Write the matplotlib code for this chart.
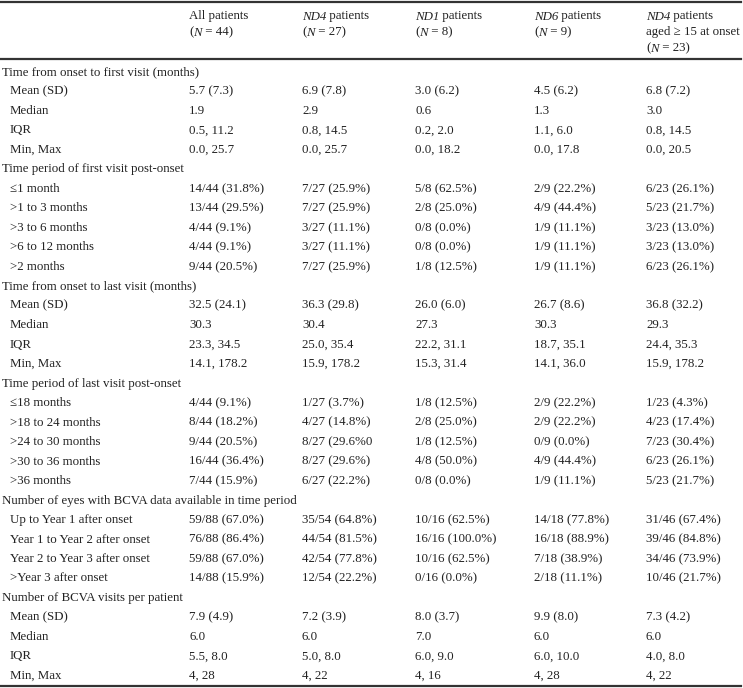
import matplotlib
matplotlib.use("Agg")
import matplotlib.pyplot as plt

plt.rcParams['font.family'] = ['Liberation Serif', 'DejaVu Serif']

# column headers: each line is a list of (text, italic) pieces
headers = [
    [[("All patients", False)], [("(", False), ("N", True), (" = 44)", False)]],
    [[("ND4", True), (" patients", False)], [("(", False), ("N", True), (" = 27)", False)]],
    [[("ND1", True), (" patients", False)], [("(", False), ("N", True), (" = 8)", False)]],
    [[("ND6", True), (" patients", False)], [("(", False), ("N", True), (" = 9)", False)]],
    [[("ND4", True), (" patients", False)], [("aged \u2265 15 at onset", False)],
     [("(", False), ("N", True), (" = 23)", False)]],
]

stat_rows = ["Mean (SD)", "Median", "IQR", "Min, Max"]

sec_first = "Time from onset to first visit (months)"
first_visit = [
    ["5.7 (7.3)", "6.9 (7.8)", "3.0 (6.2)", "4.5 (6.2)", "6.8 (7.2)"],
    ["1.9", "2.9", "0.6", "1.3", "3.0"],
    ["0.5, 11.2", "0.8, 14.5", "0.2, 2.0", "1.1, 6.0", "0.8, 14.5"],
    ["0.0, 25.7", "0.0, 25.7", "0.0, 18.2", "0.0, 17.8", "0.0, 20.5"],
]

sec_first_period = "Time period of first visit post-onset"
first_period_labels = ["\u22641 month", ">1 to 3 months", ">3 to 6 months",
                       ">6 to 12 months", ">2 months"]
first_period = [
    ["14/44 (31.8%)", "7/27 (25.9%)", "5/8 (62.5%)", "2/9 (22.2%)", "6/23 (26.1%)"],
    ["13/44 (29.5%)", "7/27 (25.9%)", "2/8 (25.0%)", "4/9 (44.4%)", "5/23 (21.7%)"],
    ["4/44 (9.1%)", "3/27 (11.1%)", "0/8 (0.0%)", "1/9 (11.1%)", "3/23 (13.0%)"],
    ["4/44 (9.1%)", "3/27 (11.1%)", "0/8 (0.0%)", "1/9 (11.1%)", "3/23 (13.0%)"],
    ["9/44 (20.5%)", "7/27 (25.9%)", "1/8 (12.5%)", "1/9 (11.1%)", "6/23 (26.1%)"],
]

sec_last = "Time from onset to last visit (months)"
last_visit = [
    ["32.5 (24.1)", "36.3 (29.8)", "26.0 (6.0)", "26.7 (8.6)", "36.8 (32.2)"],
    ["30.3", "30.4", "27.3", "30.3", "29.3"],
    ["23.3, 34.5", "25.0, 35.4", "22.2, 31.1", "18.7, 35.1", "24.4, 35.3"],
    ["14.1, 178.2", "15.9, 178.2", "15.3, 31.4", "14.1, 36.0", "15.9, 178.2"],
]

sec_last_period = "Time period of last visit post-onset"
last_period_labels = ["\u226418 months", ">18 to 24 months", ">24 to 30 months",
                      ">30 to 36 months", ">36 months"]
last_period = [
    ["4/44 (9.1%)", "1/27 (3.7%)", "1/8 (12.5%)", "2/9 (22.2%)", "1/23 (4.3%)"],
    ["8/44 (18.2%)", "4/27 (14.8%)", "2/8 (25.0%)", "2/9 (22.2%)", "4/23 (17.4%)"],
    ["9/44 (20.5%)", "8/27 (29.6%0", "1/8 (12.5%)", "0/9 (0.0%)", "7/23 (30.4%)"],
    ["16/44 (36.4%)", "8/27 (29.6%)", "4/8 (50.0%)", "4/9 (44.4%)", "6/23 (26.1%)"],
    ["7/44 (15.9%)", "6/27 (22.2%)", "0/8 (0.0%)", "1/9 (11.1%)", "5/23 (21.7%)"],
]

sec_eyes = "Number of eyes with BCVA data available in time period"
eyes_labels = ["Up to Year 1 after onset", "Year 1 to Year 2 after onset",
               "Year 2 to Year 3 after onset", ">Year 3 after onset"]
eyes = [
    ["59/88 (67.0%)", "35/54 (64.8%)", "10/16 (62.5%)", "14/18 (77.8%)", "31/46 (67.4%)"],
    ["76/88 (86.4%)", "44/54 (81.5%)", "16/16 (100.0%)", "16/18 (88.9%)", "39/46 (84.8%)"],
    ["59/88 (67.0%)", "42/54 (77.8%)", "10/16 (62.5%)", "7/18 (38.9%)", "34/46 (73.9%)"],
    ["14/88 (15.9%)", "12/54 (22.2%)", "0/16 (0.0%)", "2/18 (11.1%)", "10/46 (21.7%)"],
]

sec_visits = "Number of BCVA visits per patient"
visits = [
    ["7.9 (4.9)", "7.2 (3.9)", "8.0 (3.7)", "9.9 (8.0)", "7.3 (4.2)"],
    ["6.0", "6.0", "7.0", "6.0", "6.0"],
    ["5.5, 8.0", "5.0, 8.0", "6.0, 9.0", "6.0, 10.0", "4.0, 8.0"],
    ["4, 28", "4, 22", "4, 16", "4, 28", "4, 22"],
]

sections = [
    (sec_first, stat_rows, first_visit),
    (sec_first_period, first_period_labels, first_period),
    (sec_last, stat_rows, last_visit),
    (sec_last_period, last_period_labels, last_period),
    (sec_eyes, eyes_labels, eyes),
    (sec_visits, stat_rows, visits),
]

W, H = 743, 688
fig = plt.figure(figsize=(W / 100, H / 100), dpi=100)
ax = fig.add_axes([0, 0, 1, 1])
ax.set_xlim(0, W)
ax.set_ylim(H, 0)
ax.axis('off')

fs = 9.3
txt_color = '#222222'
col_x = [189, 302, 415, 534, 646]
label_x = 2
indent_x = 10
header_y0 = 16
header_dy = 16
row_y0 = 72
row_dy = 19.48

# rules: top, under header, bottom
for yr in [2, 59, 686]:
    ax.plot([0, 741], [yr, yr], color='#333333', lw=1.6)

# header cells, italic pieces chained one after another on a shared baseline
base_off = 3.5
for x, lines in zip(col_x, headers):
    for k, line in enumerate(lines):
        y = header_y0 + k * header_dy + base_off
        x_next = x
        for s, ital in line:
            t = ax.text(x_next, y, s, fontsize=fs, ha='left', va='baseline',
                        style='italic' if ital else 'normal', color=txt_color)
            fig.canvas.draw()
            bb = t.get_window_extent()
            x_next = ax.transData.inverted().transform((bb.x1, 0))[0]

# body
r = 0
for title, labels, values in sections:
    ax.text(label_x, row_y0 + r * row_dy, title, fontsize=fs,
            ha='left', va='center', color=txt_color)
    r += 1
    for lab, vals in zip(labels, values):
        y = row_y0 + r * row_dy
        ax.text(indent_x, y, lab, fontsize=fs, ha='left', va='center',
                color=txt_color)
        for x, v in zip(col_x, vals):
            ax.text(x, y, v, fontsize=fs, ha='left', va='center',
                    color=txt_color)
        r += 1

fig.savefig('out.png', dpi=100)
